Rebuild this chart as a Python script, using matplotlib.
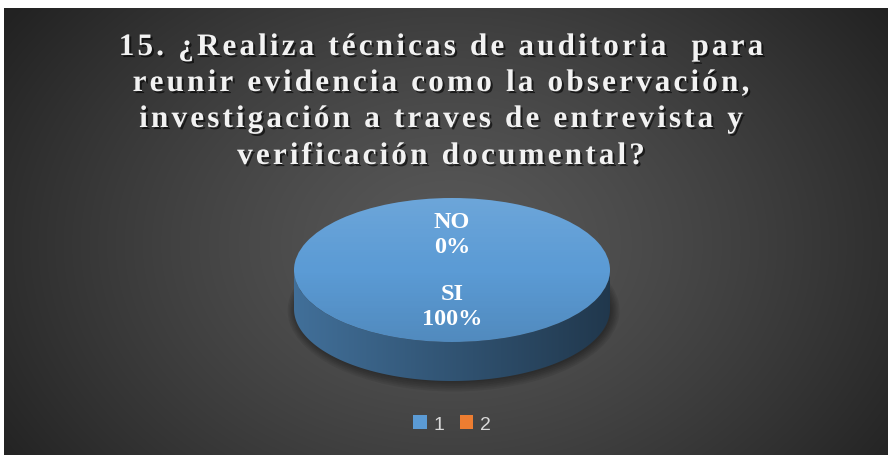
import numpy as np
import matplotlib
matplotlib.use("Agg")
import matplotlib.pyplot as plt
from matplotlib import patheffects
from matplotlib.patches import Polygon, Circle, Ellipse
from matplotlib.font_manager import FontProperties
from matplotlib.colors import to_rgb

# Chart data
title_lines = [
    "15. ¿Realiza técnicas de auditoria  para",
    "reunir evidencia como la observación,",
    "investigación a traves de entrevista y",
    "verificación documental?",
]
slice_labels = ["SI", "NO"]
slice_values = [100, 0]
legend_labels = ["1", "2"]
slice_colors = ["#5B9BD5", "#ED7D31"]

W, H = 888, 456
fig = plt.figure(figsize=(W / 100, H / 100), dpi=100, facecolor="white")

# Background: dark radial gradient (white strip on top/left as in the original)
bg = fig.add_axes([0, 0, 1, 1])
yy, xx = np.mgrid[9:H, 4:W]
r = np.clip(np.hypot(xx - 450, (yy - 245) * 1.35) / 540, 0, 1)
v = (88 - 54 * r ** 1.3) / 255
bg.imshow(np.dstack([v, v, v]), extent=(4, W, H, 9), aspect="auto", interpolation="bilinear")
bg.set_xlim(0, W)
bg.set_ylim(H, 0)
bg.axis("off")

# Title, drawn char by char to get the wide letter spacing
title_font = FontProperties(family="Liberation Serif", weight="bold", size=22.5)
shadow = [patheffects.SimplePatchShadow(offset=(1.5, -1.5), shadow_rgbFace="black", alpha=0.6),
          patheffects.Normal()]
renderer = fig.canvas.get_renderer()
spacing = 3.1
baselines = [56, 92, 128, 165]
for line, base in zip(title_lines, baselines):
    widths = [renderer.get_text_width_height_descent(c, title_font, ismath=False)[0] for c in line]
    total = sum(widths) + spacing * (len(line) - 1)
    x = 441 - total / 2
    for c, w in zip(line, widths):
        bg.text(x, base, c, fontproperties=title_font, color="#f2f2f2",
                ha="left", va="baseline", path_effects=shadow)
        x += w + spacing

# 3D pie
b_px = 72.0
depth = 39 / b_px
ax = fig.add_axes([294 / W, 1 - 382 / H, 316 / W, (2 + depth) * b_px / H])
wedges, _ = ax.pie(slice_values, colors=slice_colors, startangle=90, counterclock=False,
                   wedgeprops=dict(linewidth=0))
ax.set_aspect("auto")
ax.axis("off")

# soft shadow under the pie
for k in range(6):
    ax.add_patch(Ellipse((0.01, -depth - 0.02), 2.0 + 0.02 * k, 2.0 + 0.05 * k,
                         facecolor="black", alpha=0.07, linewidth=0, zorder=0, clip_on=False))

# side walls
for wd, col in zip(wedges, slice_colors):
    if wd.theta2 - wd.theta1 <= 0:
        continue
    th = np.radians(np.linspace(wd.theta1, wd.theta2, 500))
    idx = np.where(np.sin(th) <= 0)[0]
    if len(idx) == 0:
        continue
    runs = np.split(idx, np.where(np.diff(idx) > 1)[0] + 1)
    for run in runs:
        xs, ys = np.cos(th[run]), np.sin(th[run])
        pts = np.vstack([np.column_stack([xs, ys]),
                         np.column_stack([xs[::-1], ys[::-1] - depth])])
        poly = Polygon(pts, closed=True, facecolor="none", edgecolor="none")
        ax.add_patch(poly)
        gx = np.linspace(-1, 1, 300)
        f = 0.72 - 0.36 * (gx + 1) / 2
        rgb = np.array(to_rgb(col))
        grad = (f[None, :, None] * rgb[None, None, :]).repeat(2, axis=0)
        im = ax.imshow(grad, extent=(-1, 1, -1 - depth, 0), aspect="auto",
                       interpolation="bilinear", zorder=0.5)
        im.set_clip_path(poly)

# top face shading
gy = np.linspace(1, -1, 200)
over = np.zeros((200, 2, 4))
t = (gy + 1) / 2
over[:, :, :3] = np.where(t[:, None, None] > 0.5, 1.0, 0.0)
over[:, :, 3] = (np.abs(t - 0.5) * 0.22)[:, None]
im = ax.imshow(over, extent=(-1, 1, -1, 1), aspect="auto", interpolation="bilinear", zorder=2)
im.set_clip_path(Circle((0, 0), 1, transform=ax.transData))
ax.set_xlim(-1, 1)
ax.set_ylim(-1 - depth, 1)

# data labels
label_font = FontProperties(family="Liberation Serif", weight="bold", size=17.5)
total_v = sum(slice_values)
for wd, lab, val in zip(wedges, slice_labels, slice_values):
    ang = np.radians((wd.theta1 + wd.theta2) / 2)
    ax.text(0.51 * np.cos(ang), 0.5 * np.sin(ang), f"{lab}\n{val / total_v * 100:.0f}%",
            fontproperties=label_font, color="white", ha="center", va="center", zorder=3)

# legend
fig.legend(wedges, legend_labels, loc="center", bbox_to_anchor=(452 / W, 1 - 425 / H),
           ncol=2, frameon=False, prop=dict(family="Liberation Sans", size=14),
           labelcolor="#d9d9d9", handlelength=0.7, handleheight=0.7,
           handletextpad=0.35, columnspacing=0.8)

fig.savefig("out.png", dpi=100, facecolor="white")
